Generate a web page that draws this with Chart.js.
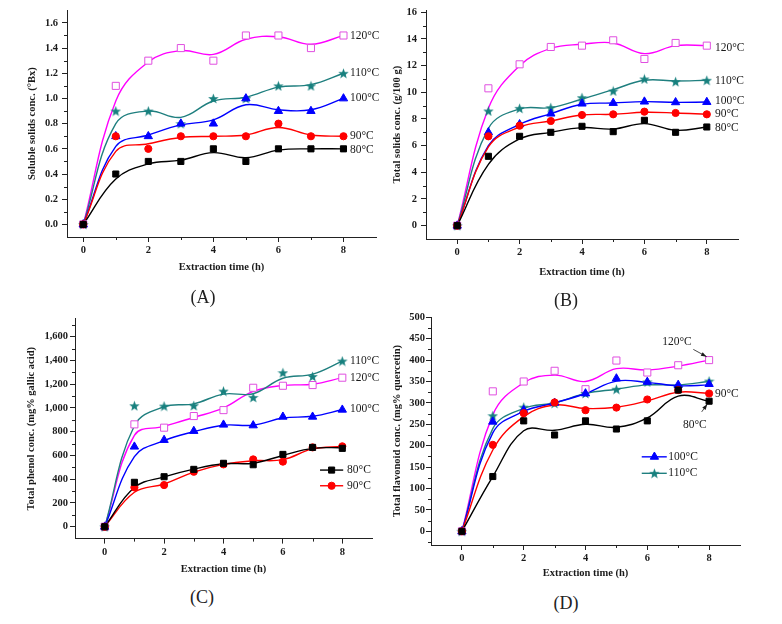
<!DOCTYPE html>
<html>
<head>
<meta charset="utf-8">
<script src="https://cdn.jsdelivr.net/npm/chart.js@4.4.1/dist/chart.umd.min.js"></script>
<style>
  html, body { margin: 0; padding: 0; background: #fff; }
  #wrap { position: relative; width: 782px; height: 624px; overflow: hidden; }
  canvas { position: absolute; }
  .tag { position: absolute; font: 18px "Liberation Serif", serif; color: #222; transform: translate(-50%, -50%); }
</style>
</head>
<body>
<div id="wrap">
  <canvas id="cA" style="left:0;top:0"></canvas>
  <canvas id="cB" style="left:390px;top:0"></canvas>
  <canvas id="cC" style="left:0;top:310px"></canvas>
  <canvas id="cD" style="left:390px;top:310px"></canvas>
  <div class="tag" style="left:203px;top:297px">(A)</div>
  <div class="tag" style="left:566px;top:300px">(B)</div>
  <div class="tag" style="left:202px;top:597px">(C)</div>
  <div class="tag" style="left:566px;top:603px">(D)</div>
</div>
<script>
const temps = ["80°C", "90°C", "100°C", "110°C", "120°C"];
const hours = [0, 1, 2, 3, 4, 5, 6, 7, 8];
const xTicks = [0, 2, 4, 6, 8];

// (A) soluble solids, measured points and fitted curve, one row per temperature
const solublePts = [
  [0, 0.4, 0.5, 0.5, 0.6, 0.5, 0.6, 0.6, 0.6],
  [0, 0.7, 0.6, 0.7, 0.7, 0.7, 0.8, 0.7, 0.7],
  [0, 0.7, 0.7, 0.8, 0.8, 1.0, 0.9, 0.9, 1.0],
  [0, 0.9, 0.9, 0.8, 1.0, 1.0, 1.1, 1.1, 1.2],
  [0, 1.1, 1.3, 1.4, 1.3, 1.5, 1.5, 1.4, 1.5]
];
const solubleFit = [
  [0, 0.36, 0.48, 0.51, 0.57, 0.53, 0.59, 0.6, 0.6],
  [0, 0.58, 0.64, 0.69, 0.7, 0.71, 0.77, 0.71, 0.7],
  [0, 0.62, 0.71, 0.79, 0.83, 0.95, 0.91, 0.91, 1.0],
  [0, 0.8, 0.9, 0.85, 0.98, 1.01, 1.09, 1.11, 1.2],
  [0, 0.98, 1.29, 1.38, 1.35, 1.47, 1.49, 1.43, 1.5]
];
const solubleTicks = [0, 0.2, 0.4, 0.6, 0.8, 1.0, 1.2, 1.4, 1.6];

// (B) total solids
const solidsPts = [
  [0, 5.2, 6.7, 7.0, 7.45, 7.05, 7.9, 7.0, 7.4],
  [0, 6.7, 7.5, 7.85, 8.3, 8.35, 8.55, 8.45, 8.35],
  [0, 7.0, 7.6, 8.4, 9.15, 9.2, 9.3, 9.25, 9.27],
  [0, 8.6, 8.8, 8.85, 9.6, 10.1, 11.0, 10.8, 10.9],
  [0, 10.3, 12.1, 13.4, 13.5, 13.9, 12.5, 13.7, 13.5]
];
const solidsFit = [
  [0, 4.6, 6.5, 7.0, 7.35, 7.25, 7.65, 7.15, 7.4],
  [0, 5.9, 7.4, 7.85, 8.3, 8.35, 8.5, 8.45, 8.35],
  [0, 6.0, 7.6, 8.4, 9.1, 9.2, 9.3, 9.25, 9.27],
  [0, 7.3, 8.75, 8.85, 9.5, 10.2, 10.9, 10.85, 10.9],
  [0, 8.8, 12.0, 13.3, 13.6, 13.7, 12.9, 13.5, 13.5]
];
const solidsTicks = [0, 2, 4, 6, 8, 10, 12, 14, 16];

// (C) total phenol
const phenolPts = [
  [0, 374, 421, 483, 534, 522, 609, 668, 660],
  [0, 331, 351, 463, 525, 567, 548, 668, 677],
  [0, 674, 730, 806, 859, 853, 926, 926, 985],
  [0, 1019, 1016, 1020, 1142, 1089, 1297, 1266, 1395],
  [0, 862, 834, 932, 982, 1170, 1187, 1193, 1255]
];
const phenolFit = [
  [0, 330, 420, 485, 530, 535, 600, 660, 665],
  [0, 290, 360, 460, 525, 555, 565, 655, 676],
  [0, 590, 725, 800, 855, 855, 915, 930, 985],
  [0, 850, 1010, 1035, 1117, 1120, 1250, 1285, 1395],
  [0, 770, 845, 920, 1000, 1140, 1190, 1200, 1255]
];
const phenolTicks = [0, 200, 400, 600, 800, 1000, 1200, 1400, 1600];

// (D) total flavonoid
const flavPts = [
  [0, 128, 258, 225, 258, 239, 258, 330, 304],
  [0, 202, 276, 301, 283, 289, 308, 330, 322],
  [0, 256, 283, 300, 322, 357, 349, 342, 344],
  [0, 270, 290, 299, 322, 332, 349, 336, 351],
  [0, 327, 350, 375, 332, 399, 371, 388, 400]
];
const flavFit = [
  [0, 128, 235, 236, 250, 243, 265, 316, 304],
  [0, 190, 268, 295, 287, 290, 305, 325, 322],
  [0, 230, 280, 300, 322, 351, 348, 340, 342],
  [0, 240, 287, 300, 322, 332, 342, 342, 350],
  [0, 272, 347, 365, 350, 380, 377, 386, 400]
];
const flavTicks = [0, 50, 100, 150, 200, 250, 300, 350, 400, 450, 500];

const SERIF = "'Liberation Serif', 'Times New Roman', serif";
const INK = "#1a1a1a";
const lineColors = ["#000000", "#ff0000", "#0000ff", "#1f7f7f", "#ff00ff"];

function makeStar(color, size) {
  const c = document.createElement("canvas");
  c.width = c.height = size;
  const g = c.getContext("2d");
  g.fillStyle = color;
  g.beginPath();
  for (let i = 0; i < 10; i++) {
    const r = i % 2 ? size * 0.21 : size * 0.5;
    const a = -Math.PI / 2 + i * Math.PI / 5;
    g.lineTo(size / 2 + r * Math.cos(a), size / 2 + 0.5 + r * Math.sin(a));
  }
  g.closePath();
  g.fill();
  return c;
}

const marks = [
  { pointStyle: "rect", radius: 4.3, bg: "#000000", border: "#000000" },
  { pointStyle: "circle", radius: 3.6, bg: "#ff0000", border: "#ff0000" },
  { pointStyle: "triangle", radius: 4.8, bg: "#0000ff", border: "#0000ff" },
  { pointStyle: makeStar("#17807e", 11), radius: 5, bg: "#17807e", border: "#17807e" },
  { pointStyle: "rect", radius: 5, bg: "#ffffff", border: "#e04fe0" }
];

function drawMark(ctx, i, x, y) {
  const m = marks[i];
  ctx.save();
  ctx.fillStyle = m.bg;
  ctx.strokeStyle = m.border;
  ctx.lineWidth = 1;
  Chart.helpers.drawPoint(ctx, { pointStyle: m.pointStyle, radius: m.radius, rotation: 0, borderWidth: 1 }, x, y);
  ctx.restore();
}

function minorTicks(xs, ys) {
  return {
    id: "minorTicks",
    afterDraw(chart) {
      const { ctx, chartArea: a, scales: { x, y } } = chart;
      ctx.save();
      ctx.strokeStyle = "#222";
      ctx.lineWidth = 1;
      ctx.beginPath();
      xs.forEach(v => {
        const px = Math.round(x.getPixelForValue(v)) + 0.5;
        ctx.moveTo(px, a.bottom);
        ctx.lineTo(px, a.bottom + 3);
      });
      ys.forEach(v => {
        const py = Math.round(y.getPixelForValue(v)) + 0.5;
        ctx.moveTo(a.left, py);
        ctx.lineTo(a.left - 3, py);
      });
      ctx.stroke();
      ctx.restore();
    }
  };
}

// series labels, arrows and small inline legends
function notes(n) {
  return {
    id: "notes",
    afterDatasetsDraw(chart) {
      const { ctx, scales: { x, y } } = chart;
      ctx.save();
      ctx.font = "11.5px " + SERIF;
      ctx.fillStyle = INK;
      ctx.textBaseline = "middle";
      (n.labels || []).forEach(l => {
        ctx.textAlign = l.align || "left";
        ctx.fillText(l.text, x.getPixelForValue(l.x), y.getPixelForValue(l.y));
      });
      (n.arrows || []).forEach(ar => {
        const x1 = x.getPixelForValue(ar.from[0]), y1 = y.getPixelForValue(ar.from[1]);
        const x2 = x.getPixelForValue(ar.to[0]), y2 = y.getPixelForValue(ar.to[1]);
        const ang = Math.atan2(y2 - y1, x2 - x1);
        ctx.strokeStyle = INK;
        ctx.lineWidth = 0.8;
        ctx.beginPath();
        ctx.moveTo(x1, y1);
        ctx.lineTo(x2, y2);
        ctx.stroke();
        ctx.beginPath();
        ctx.moveTo(x2, y2);
        ctx.lineTo(x2 - 6 * Math.cos(ang - 0.35), y2 - 6 * Math.sin(ang - 0.35));
        ctx.lineTo(x2 - 6 * Math.cos(ang + 0.35), y2 - 6 * Math.sin(ang + 0.35));
        ctx.closePath();
        ctx.fill();
      });
      if (n.legend) {
        const L = n.legend;
        L.rows.forEach(r => {
          const py = y.getPixelForValue(r.y);
          ctx.strokeStyle = lineColors[r.s];
          ctx.lineWidth = 1.4;
          ctx.beginPath();
          ctx.moveTo(x.getPixelForValue(L.x0), py);
          ctx.lineTo(x.getPixelForValue(L.x1), py);
          ctx.stroke();
          drawMark(ctx, r.s, x.getPixelForValue(L.xm), py);
          ctx.fillStyle = INK;
          ctx.textAlign = "left";
          ctx.fillText(temps[r.s], x.getPixelForValue(L.xt), py);
        });
      }
      ctx.restore();
    }
  };
}

function panel(id, p) {
  const el = document.getElementById(id);
  el.width = p.w; el.height = p.h;
  el.style.width = p.w + "px"; el.style.height = p.h + "px";
  const datasets = [];
  for (let i = 0; i < temps.length; i++) {
    datasets.push({
      label: temps[i] + " fit",
      data: hours.map((h, k) => ({ x: h, y: p.fit[i][k] })),
      showLine: true,
      borderColor: lineColors[i],
      borderWidth: 1.4,
      tension: 0.4,
      pointRadius: 0,
      order: 2
    });
    datasets.push({
      label: temps[i],
      data: hours.map((h, k) => ({ x: h, y: p.pts[i][k] })),
      showLine: false,
      pointStyle: marks[i].pointStyle,
      pointRadius: marks[i].radius,
      pointBackgroundColor: marks[i].bg,
      pointBorderColor: marks[i].border,
      pointBorderWidth: 1,
      order: 1
    });
  }
  const tickFont = { family: SERIF, weight: "bold", size: 10.5 };
  return new Chart(el, {
    type: "scatter",
    data: { datasets },
    options: {
      responsive: false,
      animation: false,
      layout: { padding: { left: 0, top: p.area.top, right: p.w - p.area.right, bottom: p.h - p.area.bottom - p.xh } },
      plugins: { legend: { display: false }, tooltip: { enabled: false } },
      scales: {
        x: {
          type: "linear",
          min: p.xMin, max: 9,
          afterBuildTicks: s => { s.ticks = xTicks.map(v => ({ value: v })); },
          afterFit: s => { s.height = p.xh; },
          grid: { drawOnChartArea: false, drawTicks: true, tickLength: 5, tickColor: "#222" },
          border: { color: "#222", width: 1 },
          ticks: { font: tickFont, color: INK, padding: 2, maxRotation: 0, autoSkip: false },
          title: { display: true, text: "Extraction time (h)", font: tickFont, color: INK, padding: 0 }
        },
        y: {
          type: "linear",
          min: p.yMin, max: p.yMax,
          afterBuildTicks: s => { s.ticks = p.yTicks.map(v => ({ value: v })); },
          afterFit: s => { s.width = p.area.left; },
          grid: { drawOnChartArea: false, drawTicks: true, tickLength: 5, tickColor: "#222" },
          border: { color: "#222", width: 1 },
          ticks: { font: tickFont, color: INK, padding: p.yPad, autoSkip: false, callback: p.fmt },
          title: { display: true, text: p.yTitle, font: tickFont, color: INK, padding: { top: p.yTitlePad, bottom: 0 } }
        }
      }
    },
    plugins: [minorTicks(p.xMinor, p.yMinor), notes(p.notes)]
  });
}

panel("cA", {
  w: 390, h: 290, area: { left: 67, top: 8, right: 376, bottom: 237 }, xh: 37,
  pts: solublePts, fit: solubleFit, xMin: -0.5, yMin: -0.1, yMax: 1.7,
  yTicks: solubleTicks, yMinor: [0.1, 0.3, 0.5, 0.7, 0.9, 1.1, 1.3, 1.5], xMinor: [1, 3, 5, 7],
  fmt: v => v.toFixed(1), yPad: 4, yTitlePad: 26,
  yTitle: "Soluble solids conc. (°Bx)",
  notes: {
    labels: [
      { text: temps[4], x: 8.2, y: 1.5 }, { text: temps[3], x: 8.2, y: 1.2 },
      { text: temps[2], x: 8.2, y: 1.0 }, { text: temps[1], x: 8.2, y: 0.7 },
      { text: temps[0], x: 8.2, y: 0.59 }
    ]
  }
});

panel("cB", {
  w: 392, h: 290, area: { left: 36, top: 8, right: 348, bottom: 239 }, xh: 40,
  pts: solidsPts, fit: solidsFit, xMin: -1, yMin: -1, yMax: 16.15,
  yTicks: solidsTicks, yMinor: [1, 3, 5, 7, 9, 11, 13, 15], xMinor: [1, 3, 5, 7],
  fmt: v => String(v), yPad: 4, yTitlePad: 1,
  yTitle: "Total solids conc. (g/100 g)",
  notes: {
    labels: [
      { text: temps[4], x: 8.26, y: 13.3 }, { text: temps[3], x: 8.26, y: 10.85 },
      { text: temps[2], x: 8.26, y: 9.33 }, { text: temps[1], x: 8.26, y: 8.35 },
      { text: temps[0], x: 8.26, y: 7.3 }
    ]
  }
});

panel("cC", {
  w: 390, h: 270, area: { left: 75, top: 8.9, right: 372, bottom: 228.6 }, xh: 37,
  pts: phenolPts, fit: phenolFit, xMin: -1, yMin: -100, yMax: 1750,
  yTicks: phenolTicks, yMinor: [100, 300, 500, 700, 900, 1100, 1300, 1500, 1700], xMinor: [1, 3, 5, 7],
  fmt: v => v.toLocaleString("en-US"), yPad: 2, yTitlePad: 25,
  yTitle: "Total phenol conc. (mg% gallic acid)",
  notes: {
    labels: [
      { text: temps[3], x: 8.26, y: 1395 }, { text: temps[4], x: 8.26, y: 1255 },
      { text: temps[2], x: 8.26, y: 991 }
    ],
    legend: { rows: [{ s: 0, y: 477 }, { s: 1, y: 345 }], x0: 7.25, x1: 8.03, xm: 7.64, xt: 8.16 }
  }
});

panel("cD", {
  w: 392, h: 270, area: { left: 41, top: 7.3, right: 350, bottom: 235 }, xh: 35,
  pts: flavPts, fit: flavFit, xMin: -1, yMin: -32, yMax: 500,
  yTicks: flavTicks, yMinor: [-25, 25, 75, 125, 175, 225, 275, 325, 375, 425, 475], xMinor: [1, 3, 5, 7],
  fmt: v => String(v), yPad: 1, yTitlePad: 0.5,
  yTitle: "Total flavonoid conc. (mg% quercetin)",
  notes: {
    labels: [
      { text: temps[4], x: 6.96, y: 443, align: "center" },
      { text: temps[1], x: 8.19, y: 322 },
      { text: temps[0], x: 7.54, y: 248, align: "center" }
    ],
    arrows: [
      { from: [7.49, 425], to: [7.92, 408] },
      { from: [7.76, 279], to: [7.94, 297] }
    ],
    legend: { rows: [{ s: 2, y: 174 }, { s: 3, y: 135.5 }], x0: 5.82, x1: 6.63, xm: 6.23, xt: 6.68 }
  }
});
</script>
</body>
</html>
